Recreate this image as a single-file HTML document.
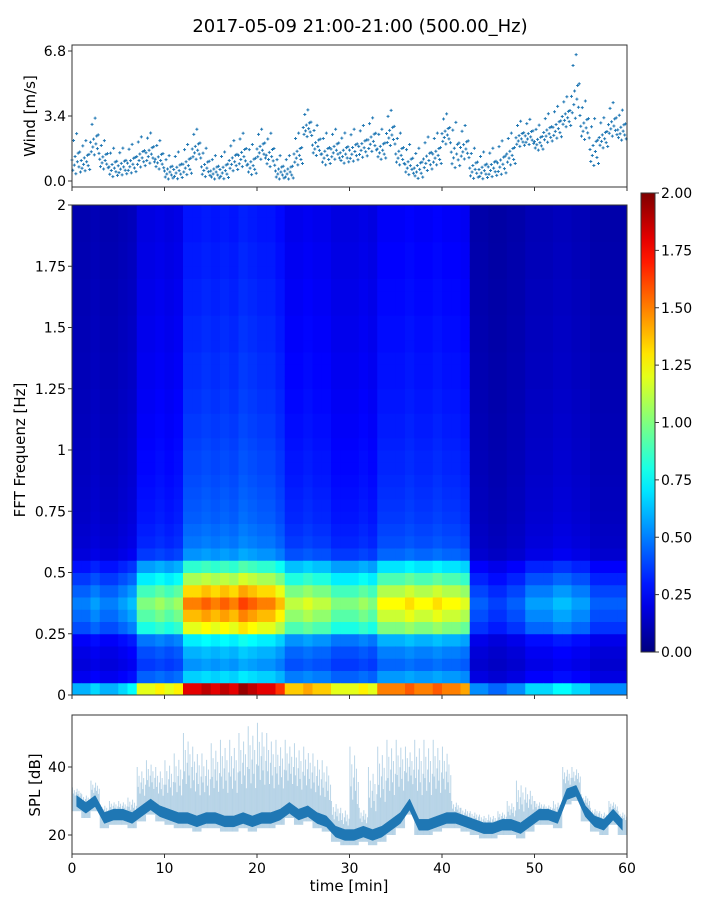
<!DOCTYPE html>
<html><head><meta charset="utf-8"><style>
body{margin:0;background:#fff;font-family:"Liberation Sans","DejaVu Sans",sans-serif}
svg text{font-family:"DejaVu Sans","Liberation Sans",sans-serif}
</style></head><body>
<svg id="c" width="720" height="900" xmlns="http://www.w3.org/2000/svg">
<text x="360" y="32" font-size="18" text-anchor="middle">2017-05-09 21:00-21:00 (500.00_Hz)</text>
<g id="wind"></g>
<g id="spec"></g>
<g id="cbar"></g>
<g id="spl"></g>
</svg>
<script>
const minutes=[...Array(60).keys()];
const windMean=[1.0,1.2,2.0,1.3,0.9,1.0,1.1,1.4,1.6,1.3,0.5,0.6,1.0,1.8,0.9,0.6,0.7,1.2,1.4,1.0,1.8,1.4,0.5,0.5,1.5,3.0,2.0,1.5,1.8,1.6,1.7,1.9,2.2,1.8,2.5,1.5,1.0,0.8,1.2,1.5,2.6,1.3,1.8,0.8,0.7,0.9,1.0,1.5,2.5,2.6,2.3,2.7,2.9,3.5,3.8,2.8,1.4,2.4,3.0,2.8];
const windHigh=[2.6,2.2,3.4,2.2,1.8,1.8,2.0,2.4,2.6,2.2,1.4,1.6,2.0,2.8,1.8,1.4,1.6,2.2,2.6,2.0,2.8,2.6,1.4,1.4,2.6,3.8,3.0,2.6,2.8,2.6,2.8,3.0,3.4,2.8,3.8,2.6,2.0,1.8,2.4,2.6,3.6,3.2,3.0,1.8,1.6,1.8,2.2,2.6,3.2,3.3,3.0,3.6,4.0,4.5,6.8,4.3,3.4,3.4,4.2,3.8];
const splBase=[30,28,30,25,26,26,25,27,29,27,26,25,25,24,25,25,24,24,25,24,25,25,26,28,26,27,25,24,21,20,20,21,20,21,23,25,29,23,23,24,25,25,24,23,22,22,23,23,22,24,26,26,25,32,33,27,24,23,26,23];
const splPeak=[34,32,36,29,30,30,31,40,42,40,42,44,50,46,44,47,48,48,50,52,53,50,48,48,47,46,44,42,30,28,46,28,40,46,48,48,46,48,48,48,46,30,28,27,26,26,27,30,36,34,30,29,30,40,40,32,28,27,30,27];
const specTime=[0.4,0.4,0.45,0.4,0.4,0.45,0.5,0.8,0.8,0.85,0.8,0.85,1.2,1.2,1.25,1.2,1.25,1.2,1.3,1.25,1.2,1.2,1.1,0.9,0.9,0.95,0.9,0.9,0.8,0.8,0.8,0.85,0.8,1.0,1.0,1.0,1.05,1.0,1.0,1.05,1.0,1.0,0.95,0.35,0.35,0.3,0.3,0.35,0.35,0.45,0.45,0.45,0.5,0.5,0.45,0.45,0.35,0.35,0.35,0.35];
const specFreq=[1.5,0.55,0.45,0.5,0.6,1.0,1.15,1.25,1.1,0.9,0.7,0.45,0.4,0.38,0.36,0.35,0.34,0.33,0.32,0.32,0.31,0.3,0.3,0.29,0.29,0.28,0.28,0.28,0.27,0.27,0.27,0.26,0.26,0.26,0.25,0.25,0.25,0.24,0.24,0.24];
const xTicks=[0,10,20,30,40,50,60];
const windTicks=["0.0","3.4","6.8"];
const freqTicks=["0","0.25","0.5","0.75","1","1.25","1.5","1.75","2"];
const cbTicks=["0.00","0.25","0.50","0.75","1.00","1.25","1.50","1.75","2.00"];
const splTicks=[20,40];

const NS="http://www.w3.org/2000/svg";
function mk(p,t,a){const e=document.createElementNS(NS,t);for(const k in a)e.setAttribute(k,a[k]);p.appendChild(e);return e;}
const X0=72,X1=627;
const xs=m=>X0+m*(X1-X0)/60;
function jet(v){v=Math.max(0,Math.min(1,v));
 const r=Math.max(0,Math.min(1,1.5-Math.abs(4*v-3))),g=Math.max(0,Math.min(1,1.5-Math.abs(4*v-2))),b=Math.max(0,Math.min(1,1.5-Math.abs(4*v-1)));
 return `rgb(${r*255|0},${g*255|0},${b*255|0})`;}
function frame(g,y0,y1,name){const r=mk(g,'rect',{x:X0,y:y0,width:X1-X0,height:y1-y0,fill:'none',stroke:'#333','stroke-width':1});
 
 }
function xaxis(g,y,labels){xTicks.forEach(t=>{mk(g,'line',{x1:xs(t),x2:xs(t),y1:y,y2:y+4,stroke:'#333'});
 if(labels){const tx=mk(g,'text',{x:xs(t),y:y+19,'font-size':14,'text-anchor':'middle'});tx.textContent=t;
 
 }});}
function ylabel(g,x,y,s,name){const t=mk(g,'text',{x:x,y:y,'font-size':15,'text-anchor':'middle',transform:`rotate(-90 ${x} ${y})`});t.textContent=s;
 
 }

// wind
(function(){const g=document.getElementById('wind');const ys=v=>181-v*(181-51)/6.8;
 const pat=[0.5,0.2,0.8,0.35,0.6,0.1,0.95,0.45,0.7,0.3,0.55,0.15];
 minutes.forEach(m=>{const lo=Math.max(0,windMean[m]-0.8),hi=windHigh[m];
  pat.forEach((p,k)=>{const x=xs(m+k/pat.length),y=ys(lo+(hi-lo)*p*(k%4==2?1:0.75));
   const pt=mk(g,'path',{d:`M${x-1.5},${y}h3M${x},${y-1.5}v3`,stroke:'#1f77b4','stroke-width':1});
   
   });});
 frame(g,45,187,'wind-axes');xaxis(g,187,false);
 windTicks.forEach(t=>{const y=ys(+t);mk(g,'line',{x1:X0-4,x2:X0,y1:y,y2:y,stroke:'#333'});
  const tx=mk(g,'text',{x:X0-6,y:y+5,'font-size':14,'text-anchor':'end'});tx.textContent=t;
  
  });
 ylabel(g,35,116,'Wind [m/s]','wind-y-axis-title');})();

// spectrogram
(function(){const g=document.getElementById('spec');const Y0=205,Y1=695;const ys=f=>Y1-f*(Y1-Y0)/2;
 const fh=2/specFreq.length;
 minutes.forEach(m=>{specFreq.forEach((fv,i)=>{const v=specTime[m]*fv;
  const c=mk(g,'rect',{x:xs(m),y:ys((i+1)*fh),width:xs(m+1)-xs(m)+0.5,height:ys(i*fh)-ys((i+1)*fh)+0.5,fill:jet(v/2)});
  
  });});
 frame(g,Y0,Y1,'spectrogram-axes');xaxis(g,Y1,false);
 freqTicks.forEach(t=>{const y=ys(+t);mk(g,'line',{x1:X0-4,x2:X0,y1:y,y2:y,stroke:'#333'});
  const tx=mk(g,'text',{x:X0-6,y:y+5,'font-size':14,'text-anchor':'end'});tx.textContent=t;
  
  });
 ylabel(g,25,450,'FFT Frequenz [Hz]','freq-y-axis-title');})();

// colorbar
(function(){const g=document.getElementById('cbar');const d=mk(g,'defs',{});const lg=mk(d,'linearGradient',{id:'jg',x1:0,y1:1,x2:0,y2:0});
 for(let i=0;i<=20;i++)mk(lg,'stop',{offset:i/20,'stop-color':jet(i/20)});
 const r=mk(g,'rect',{x:641,y:193,width:14,height:459,fill:'url(#jg)',stroke:'#333'});
 
 
 cbTicks.forEach(t=>{const y=652-(+t)/2*459;mk(g,'line',{x1:655,x2:659,y1:y,y2:y,stroke:'#333'});
  const tx=mk(g,'text',{x:661,y:y+5,'font-size':14});tx.textContent=t;
  
  });})();

// SPL
(function(){const g=document.getElementById('spl');const ys=v=>835-(v-20)*3.4;
 const offs=[0.05,0.15,0.25,0.35,0.45,0.55,0.65,0.75,0.85,0.95],scl=[1,0.55,0.8,0.4,0.65,0.9,0.5,0.75,0.35,0.6];
 minutes.forEach(m=>{offs.forEach((o,k)=>{const b=splBase[m],top=b+(splPeak[m]-b)*scl[k];
  const l=mk(g,'line',{x1:xs(m+o),x2:xs(m+o),y1:ys(b-3),y2:ys(top),stroke:'#1f77b4','stroke-opacity':0.3,'stroke-width':1});
  
  });});
 let up='',dn='';minutes.forEach(m=>{up+=(m?'L':'M')+xs(m+0.5)+','+ys(splBase[m]+1.6);});
 for(let m=59;m>=0;m--)dn+='L'+xs(m+0.5)+','+ys(splBase[m]-1.6);
 const p=mk(g,'path',{d:up+dn+'Z',fill:'#1f77b4',stroke:'#1f77b4','stroke-width':0.5});
 
 
 frame(g,715,854,'spl-axes');xaxis(g,854,true);
 splTicks.forEach(t=>{const y=ys(t);mk(g,'line',{x1:X0-4,x2:X0,y1:y,y2:y,stroke:'#333'});
  const tx=mk(g,'text',{x:X0-6,y:y+5,'font-size':14,'text-anchor':'end'});tx.textContent=t;
  
  });
 ylabel(g,40,785,'SPL [dB]','spl-y-axis-title');
 const t=mk(g,'text',{x:349,y:891,'font-size':15,'text-anchor':'middle'});t.textContent='time [min]';
 
 })();
</script>
</body></html>
